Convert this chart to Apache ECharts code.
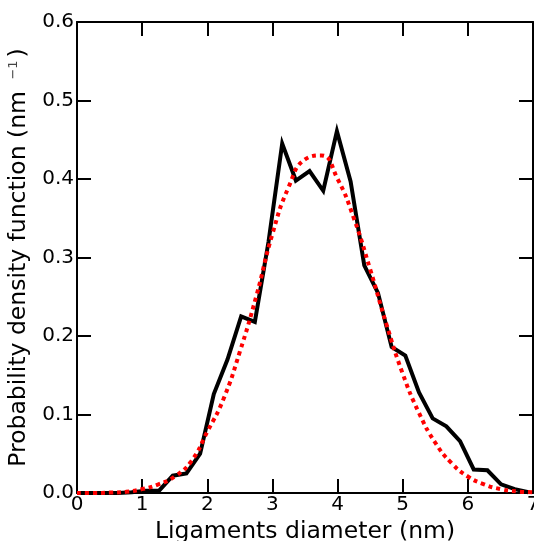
<!DOCTYPE html>
<html>
<head>
<meta charset="utf-8">
<script src="https://cdn.jsdelivr.net/npm/echarts@6/dist/echarts.min.js"></script>
<style>
  html, body { margin: 0; padding: 0; background: #fff; }
  #chart { width: 534px; height: 541px; }
</style>
</head>
<body>
<div id="chart"></div>
<script>
// histogram of ligament diameters (bin centres, nm) and density
var histX = [0, 0.21, 0.42, 0.63, 0.84, 1.05, 1.26, 1.47, 1.68, 1.89, 2.1, 2.31, 2.52, 2.73, 2.94,
    3.15, 3.36, 3.57, 3.78, 3.99, 4.2, 4.41, 4.62, 4.83, 5.04, 5.25, 5.46, 5.67, 5.88, 6.09,
    6.3, 6.51, 6.72, 6.93];
var histY = [0, 0, 0, 0, 0.001, 0.003, 0.003, 0.022, 0.025, 0.05, 0.126, 0.17, 0.225, 0.218, 0.32,
    0.445, 0.398, 0.41, 0.385, 0.461, 0.397, 0.29, 0.255, 0.186, 0.175, 0.128, 0.095, 0.085, 0.066, 0.03,
    0.029, 0.011, 0.005, 0.001];
// fitted curve
var fitX = [0, 0.25, 0.5, 0.75, 1, 1.25, 1.5, 1.75, 2, 2.25, 2.5, 2.75, 3, 3.25, 3.5,
    3.75, 4, 4.25, 4.5, 4.75, 5, 5.25, 5.5, 5.75, 6, 6.25, 6.5, 6.75, 7];
var fitY = [0, 0, 0.0005, 0.0015, 0.005, 0.011, 0.021, 0.04, 0.078, 0.12, 0.18, 0.25, 0.33, 0.39, 0.425,
    0.43, 0.40, 0.35, 0.285, 0.215, 0.152, 0.102, 0.064, 0.038, 0.021, 0.011, 0.005, 0.002, 0.001];
var xTicks = [0, 7, 1];
var yTicks = [0, 0.6, 0.1];

function pairs(xs, ys) {
    return xs.map(function (x, i) { return [x, ys[i]]; });
}

var chart = echarts.init(document.getElementById('chart'));
var font = 'DejaVu Sans';
var axisLine = { show: true, onZero: false, lineStyle: { color: '#000', width: 2 } };
var tick = { show: true, inside: true, length: 14, lineStyle: { color: '#000', width: 2 } };

chart.setOption({
    animation: false,
    backgroundColor: '#fff',
    grid: { left: 77, right: 1, top: 22, bottom: 48, outerBoundsMode: 'none' },
    xAxis: [{
        type: 'value', min: xTicks[0], max: xTicks[1], interval: xTicks[2],
        name: 'Ligaments diameter (nm)', nameLocation: 'middle', nameGap: 18,
        nameTextStyle: { fontFamily: font, fontSize: 23.5, color: '#000' },
        axisLine: axisLine, axisTick: tick,
        axisLabel: { fontFamily: font, fontSize: 20, color: '#000', margin: 2, showMaxLabel: true },
        splitLine: { show: false }
    }, {
        type: 'value', position: 'top', min: xTicks[0], max: xTicks[1], interval: xTicks[2],
        axisLine: axisLine, axisTick: tick, axisLabel: { show: false }, splitLine: { show: false }
    }],
    yAxis: [{
        type: 'value', min: yTicks[0], max: yTicks[1], interval: yTicks[2],
        name: 'Probability density function (nm {sup|\u22121})',
        nameLocation: 'middle', nameGap: 40,
        nameTextStyle: {
            fontFamily: font, fontSize: 23.5, color: '#000',
            rich: { sup: { fontFamily: font, fontSize: 13, color: '#444', verticalAlign: 'top', padding: [0, 3, 12, 4] } }
        },
        axisLine: axisLine, axisTick: tick,
        axisLabel: {
            fontFamily: font, fontSize: 20, color: '#000', margin: 3,
            formatter: function (v) { return v.toFixed(1); }
        },
        splitLine: { show: false }
    }, {
        type: 'value', position: 'right', min: yTicks[0], max: yTicks[1], interval: yTicks[2],
        axisLine: axisLine, axisTick: tick, axisLabel: { show: false }, splitLine: { show: false }
    }],
    series: [{
        type: 'line', data: pairs(histX, histY), showSymbol: false,
        lineStyle: { color: '#000', width: 4, join: 'miter' }
    }, {
        type: 'line', data: pairs(fitX, fitY), showSymbol: false, smooth: true,
        lineStyle: { color: '#ff0000', width: 4, type: [4, 4], cap: 'butt' }
    }]
});
</script>
</body>
</html>
